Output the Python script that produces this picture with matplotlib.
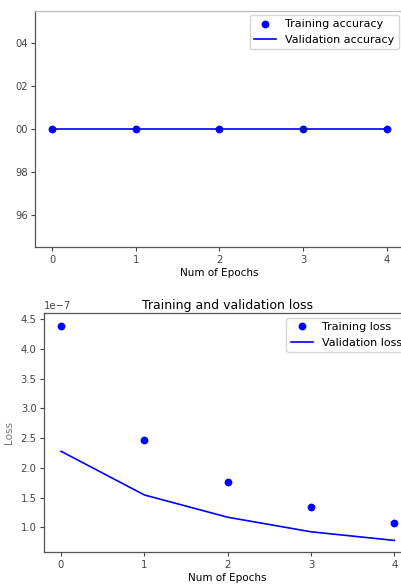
import matplotlib
matplotlib.use("Agg")
import matplotlib.pyplot as plt
from matplotlib.ticker import FixedLocator, FixedFormatter

# ---- data ----
epochs = [0, 1, 2, 3, 4]
train_acc = [1.0, 1.0, 1.0, 1.0, 1.0]
val_acc = [1.0, 1.0, 1.0, 1.0, 1.0]
acc_ticks = [0.96, 0.98, 1.00, 1.02, 1.04]
acc_tick_labels = ["96", "98", "00", "02", "04"]   # left part cropped in the reference

train_loss = [4.39e-7, 2.47e-7, 1.77e-7, 1.35e-7, 1.08e-7]
val_loss = [2.28e-7, 1.545e-7, 1.17e-7, 0.925e-7, 0.78e-7]

W, H = 402, 586
fig = plt.figure(figsize=(W / 100, H / 100), dpi=100)

plt.rcParams.update({
    "font.size": 7.5,
    "xtick.labelsize": 7.2,
    "ytick.labelsize": 7.2,
    "xtick.major.size": 2.8,
    "ytick.major.size": 2.8,
    "xtick.major.pad": 2.8,
    "ytick.major.pad": 2.8,
    "axes.linewidth": 0.9,
    "legend.fontsize": 8.0,
})


def box(l, r, t, b):
    return [l / W, 1 - b / H, (r - l) / W, (b - t) / H]


spine_col = "#555555"

# ---- top: accuracy ----
ax1 = fig.add_axes(box(35.5, 403.5, 10.6, 247.3))
ax1.plot(epochs, train_acc, "bo", markersize=4.6, label="Training accuracy")
ax1.plot(epochs, val_acc, "b", linewidth=1.2, label="Validation accuracy")
ax1.set_xlim(-0.2, 4.2)
ax1.set_ylim(0.945, 1.055)
ax1.yaxis.set_major_locator(FixedLocator(acc_ticks))
ax1.yaxis.set_major_formatter(FixedFormatter(acc_tick_labels))
ax1.set_xticks(epochs)
ax1.set_xlabel("Num of Epochs", fontsize=7.5, labelpad=2)
ax1.legend(loc="upper right", borderaxespad=0.4, handlelength=2.0)

# ---- bottom: loss ----
ax2 = fig.add_axes(box(44.3, 411.0, 313.3, 552.3))
ax2.plot(epochs, train_loss, "bo", markersize=4.6, label="Training loss")
ax2.plot(epochs, val_loss, "b", linewidth=1.2, label="Validation loss")
ax2.set_xlim(-0.2, 4.2)
ax2.set_ylim(0.58e-7, 4.6e-7)
ax2.set_xticks(epochs)
ax2.set_title("Training and validation loss", fontsize=9, pad=3)
ax2.set_xlabel("Num of Epochs", fontsize=7.5, labelpad=2)
ax2.set_ylabel("Loss", fontsize=7.5, color="#777777")
ax2.yaxis.set_label_coords(-0.082, 0.5)
ax2.yaxis.get_offset_text().set_fontsize(7.2)
ax2.legend(loc="upper right", borderaxespad=0.4, handlelength=2.0)

ax1.spines["top"].set_color("#bbbbbb")
for ax in (ax1, ax2):
    for name, s in ax.spines.items():
        if not (ax is ax1 and name == "top"):
            s.set_color(spine_col)
    ax.tick_params(colors="#444444")

fig.savefig("out.png", dpi=100, facecolor="white")
